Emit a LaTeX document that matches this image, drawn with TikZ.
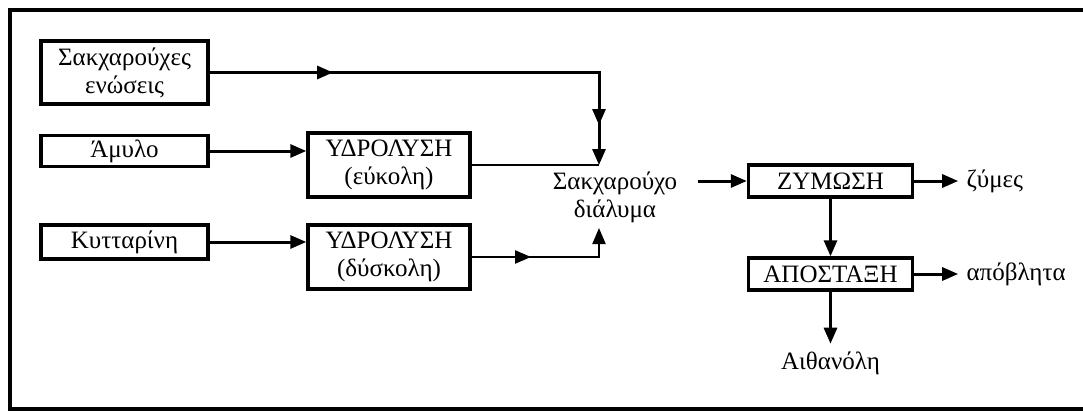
\documentclass[tikz,border=0pt]{standalone}
\usepackage{fontspec}
\setmainfont{Liberation Serif}
\usetikzlibrary{positioning, arrows.meta, decorations.markings}

\begin{document}
\begin{tikzpicture}[
      x=0.5pt, y=-0.5pt,
      font=\fontsize{12.5}{14}\selectfont,
      node distance=22pt,
      box/.style={rectangle, draw, line width=1.7pt, align=center, inner sep=0pt},
      feed/.style={box, minimum width=83.5pt},
      unit/.style={box, minimum width=82pt, minimum height=16pt},
      product/.style={align=center, inner sep=4pt},
      arrow/.style={-{Triangle[length=8pt, width=6.5pt]}, line width=1.5pt},
      midarrow/.style={postaction={decorate, decoration={markings,
          mark=at position #1 with {\arrow{Triangle[length=8pt, width=6.5pt]}}}}}
    ]
    \useasboundingbox (0,0) rectangle (1083,412);
    % outer frame, open on the right
    \draw[line width=2.4pt] (1095,10) -- (10,10) -- (10,409) -- (1095,409);

    % raw materials
    \node[feed, minimum height=31.5pt] (sak) at (124.5,72.5) {Σακχαρούχες\\ενώσεις};
    \node[feed, minimum height=15.5pt] (amylo) at (124.5,151) {Άμυλο};
    \node[feed, minimum height=17pt] (cell) at (124.5,242) {Κυτταρίνη};

    % hydrolysis
    \node[box, minimum width=81pt, minimum height=32pt] (hyd1) at (389,165) {ΥΔΡΟΛΥΣΗ\\(εύκολη)};
    \node[box, minimum width=81pt, minimum height=32pt] (hyd2) at (389,257) {ΥΔΡΟΛΥΣΗ\\(δύσκολη)};

    % sugar solution
    \node[product] (sugar) at (615,197) {Σακχαρούχο\\διάλυμα};
    \coordinate (jtop) at (599,165);
    \coordinate (jbot) at (599,228);

    % fermentation and distillation
    \node[unit] (zym) at (830.5,181) {ΖΥΜΩΣΗ};
    \node[unit] (apo) at (830.5,274) {ΑΠΟΣΤΑΞΗ};
    \node[product, right=of zym, anchor=west] (zymes) {ζύμες};
    \node[product, right=of apo, anchor=west] (waste) {απόβλητα};
    \node[product, below=26pt of apo] (eth) {Αιθανόλη};

    \draw[arrow, midarrow=0.256, midarrow=0.917] (sak.east) -| (jtop);
    \draw[arrow] (amylo.east) -- (amylo.east -| hyd1.west);
    \draw[line width=1pt] (hyd1.east) -- (jtop);
    \draw[arrow, line width=1pt, midarrow=0.38] (hyd2.east) -| (jbot);
    \draw[arrow] (cell.east) -- (cell.east -| hyd2.west);
    \draw[arrow, shorten <=6pt] (sugar.east |- zym.west) -- (zym.west);
    \draw[arrow] (zym.east) -- (zymes.west);
    \draw[arrow] (zym.south) -- (apo.north);
    \draw[arrow] (apo.east) -- (waste.west);
    \draw[arrow] (apo.south) -- (eth.north);
  \end{tikzpicture}
\end{document}
